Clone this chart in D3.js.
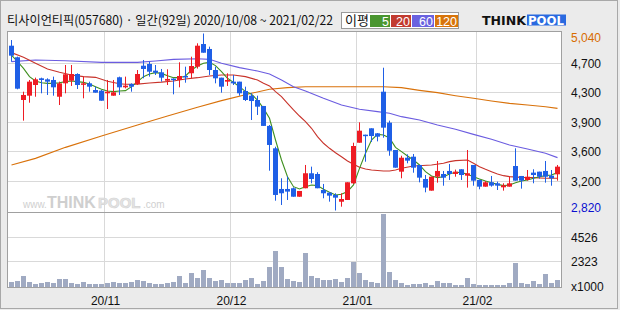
<!DOCTYPE html>
<html>
<head>
<meta charset="utf-8"/>
<script src="https://cdnjs.cloudflare.com/ajax/libs/d3/7.8.5/d3.min.js"></script>
<style>
  body { margin: 0; background: #ebebeb; }
  svg { display: block; font-family: "Liberation Sans", Arial, sans-serif; }
</style>
</head>
<body>
<script>
// trading days 2020/10/08 ~ 2021/02/22 (92)
const dates = [
  "2020-10-08","2020-10-12","2020-10-13","2020-10-14","2020-10-15","2020-10-16","2020-10-19","2020-10-20","2020-10-21","2020-10-22",
  "2020-10-23","2020-10-26","2020-10-27","2020-10-28","2020-10-29","2020-10-30","2020-11-02","2020-11-03","2020-11-04","2020-11-05",
  "2020-11-06","2020-11-09","2020-11-10","2020-11-11","2020-11-12","2020-11-13","2020-11-16","2020-11-17","2020-11-18","2020-11-19",
  "2020-11-20","2020-11-23","2020-11-24","2020-11-25","2020-11-26","2020-11-27","2020-11-30","2020-12-01","2020-12-02","2020-12-03",
  "2020-12-04","2020-12-07","2020-12-08","2020-12-09","2020-12-10","2020-12-11","2020-12-14","2020-12-15","2020-12-16","2020-12-17",
  "2020-12-18","2020-12-21","2020-12-22","2020-12-23","2020-12-24","2020-12-28","2020-12-29","2020-12-30","2021-01-04","2021-01-05",
  "2021-01-06","2021-01-07","2021-01-08","2021-01-11","2021-01-12","2021-01-13","2021-01-14","2021-01-15","2021-01-18","2021-01-19",
  "2021-01-20","2021-01-21","2021-01-22","2021-01-25","2021-01-26","2021-01-27","2021-01-28","2021-01-29","2021-02-01","2021-02-02",
  "2021-02-03","2021-02-04","2021-02-05","2021-02-08","2021-02-09","2021-02-10","2021-02-15","2021-02-16","2021-02-17","2021-02-18",
  "2021-02-19","2021-02-22"
];

const open = [
  4887,4742,4206,4260,4394,4478,4465,4457,4247,4415, 4448,4532,4403,4415,4331,4323,4290,4260,4491,4365,
  4407,4407,4636,4658,4574,4553,4448,4474,4457,4507, 4541,4624,4908,4846,4582,4486,4436,4436,4436,4319,
  4260,4206,4131,3881,3600,3090,3090,3099,2993,3099, 3287,3278,3077,3044,3015,2930,2952,3161,3670,3771,
  3851,3788,4310,3922,3579,3307,3482,3495,3391,3215, 3069,3244,3278,3316,3278,3337,3257,3391,3203,3119,
  3174,3161,3111,3119,3378,3253,3203,3295,3307,3316, 3257,3274
];
const high = [
  4958,4750,4310,4457,4486,4486,4478,4499,4436,4645, 4645,4541,4499,4436,4373,4331,4457,4457,4499,4499,
  4415,4582,4708,4687,4645,4595,4591,4478,4679,4624, 4749,4917,5040,4875,4624,4486,4541,4520,4436,4373,
  4290,4260,4131,3892,3620,3224,3244,3110,3065,3391, 3370,3300,3153,3048,3036,3036,3174,3670,3926,3771,
  3851,3792,4611,3947,3579,3507,3524,3529,3391,3265, 3244,3441,3316,3403,3333,3337,3579,3391,3207,3190,
  3253,3182,3161,3245,3600,3253,3328,3337,3307,3441, 3328,3391
];
const low = [
  4686,4340,3947,4172,4247,4290,4269,4260,4143,4290, 4382,4344,4227,4310,4298,4197,4093,4260,4269,4352,
  4310,4394,4478,4499,4520,4436,4394,4277,4365,4423, 4478,4600,4799,4520,4415,4298,4382,4394,4260,4193,
  3955,4018,3881,3319,2943,2889,2952,2993,2993,3099, 3161,3099,2973,2931,2820,2868,2952,3153,3670,3432,
  3680,3687,3733,3507,3357,3224,3412,3294,3173,3048, 3069,3169,3131,3203,3244,3203,3107,3131,3086,3119,
  3119,3077,3069,3119,3194,3094,3194,3161,3220,3169, 3131,3194
];
const close = [
  4762,4348,4269,4436,4465,4457,4436,4365,4415,4528, 4532,4394,4415,4373,4298,4197,4310,4302,4365,4386,
  4373,4532,4595,4561,4548,4486,4470,4457,4507,4495, 4632,4887,4799,4582,4478,4373,4457,4415,4290,4206,
  4193,4122,3881,3642,3015,3036,3057,2993,3065,3287, 3215,3099,3036,3006,2981,2964,3174,3629,3821,3754,
  3754,3746,3859,3570,3357,3482,3445,3357,3232,3107, 3244,3316,3232,3278,3307,3265,3287,3194,3119,3174,
  3132,3132,3136,3161,3194,3194,3244,3265,3244,3244, 3224,3370
];
// volume, thousands of shares
const volume = [
  480,570,996,480,272,390,480,390,724,724, 390,272,480,272,272,272,390,480,390,390,
  480,634,570,390,272,272,390,480,996,390, 1298,845,1539,845,570,634,390,390,390,634,
  845,272,570,1841,3259,1841,724,543,452,3108, 996,815,634,634,724,480,815,2263,1298,634,
  480,390,6609,1388,634,390,181,272,272,390, 181,543,332,390,181,181,815,272,181,181,
  181,181,181,390,2203,390,272,543,272,1177, 390,634
];

// moving averages: [day index, price]
const ma5 = [
  4770,4687,4603,4499,4444,4423,4415,4415,4423,4436, 4444,4436,4427,4407,4373,4340,4319,4311,4319,4323,
  4373,4436,4499,4532,4549,4540,4511,4486,4486,4507, 4582,4632,4666,4678,4637,4561,4478,4427,4373,4311,
  4277,4206,4101,3976,3704,3453,3244,3119,3090,3119, 3140,3132,3086,3048,3015,3023,3057,3140,3349,3537,
  3704,3775,3767,3730,3612,3558,3504,3453,3391,3307, 3253,3232,3244,3278,3299,3295,3274,3244,3215,3190,
  3169,3148,3132,3140,3169,3190,3203,3224,3244,3257, 3265,3295
].map((v, i) => [i, v]);
const ma20 = [
  [0,4800],[2,4741],[4,4666],[6,4595],[8,4553],[10,4520],[12,4499],[14,4490],[16,4440],[18,4410],
  [19,4403],[21,4405],[23,4420],[25,4430],[27,4445],[29,4470],[31,4486],[33,4507],[35,4520],[37,4520],
  [39,4499],[41,4457],[42,4415],[43,4382],[44,4311],[45,4248],[46,4164],[47,4081],[48,4005],[49,3934],
  [50,3851],[51,3746],[52,3663],[53,3600],[54,3545],[55,3495],[56,3441],[57,3399],[58,3362],[59,3341],
  [60,3328],[62,3316],[63,3316],[64,3328],[65,3349],[67,3378],[70,3391],[72,3412],[73,3433],[74,3445],
  [76,3453],[77,3412],[78,3370],[79,3337],[80,3307],[81,3278],[82,3257],[83,3245],[85,3236],[87,3232],
  [89,3224],[91,3224]
];
const ma60 = [
  [0,4687],[4,4708],[9,4699],[15,4678],[21,4678],[24,4695],[27,4716],[31,4724],[33,4716],[35,4666],
  [38,4612],[41,4570],[43,4532],[45,4457],[47,4373],[49,4319],[52,4227],[55,4143],[58,4089],[61,4060],
  [63,4039],[65,3997],[68,3955],[71,3892],[74,3838],[77,3775],[80,3713],[83,3642],[86,3591],[89,3537],
  [91,3483]
];
const ma120 = [
  [0,3391],[4,3474],[9,3612],[15,3754],[21,3892],[26,4005],[31,4114],[35,4198],[40,4290],[43,4340],
  [46,4361],[49,4373],[55,4373],[62,4373],[65,4361],[68,4327],[71,4298],[74,4260],[77,4227],[80,4193],
  [83,4164],[86,4143],[89,4122],[91,4101]
];

const priceMin = 2820, priceMax = 5040;
const priceTicks = [4670, 4300, 3930, 3560, 3190];
const priceTickLabels = ["4,700", "4,300", "3,900", "3,600", "3,200"];
const volMax = 6790;
const volTicks = [4526, 2323];
const monthTicks = ["2020-11-02", "2020-12-01", "2021-01-04", "2021-02-01"];
const monthLabels = ["20/11", "20/12", "21/01", "21/02"];

const title = "티사이언티픽(057680) · 일간(92일) 2020/10/08 ~ 2021/02/22";
const maLegend = [
  {label: "5", color: "#4a9630"},
  {label: "20", color: "#c23b30"},
  {label: "60", color: "#6a62e0"},
  {label: "120", color: "#d8740a"}
];

const width = 620, height = 310;
const panel = {left: 7.5, right: 561.5, top: 31.5, mid: 212.5, bottom: 287.5};
const RED = "#ee1c24", BLUE = "#1f5fe6";

const svg = d3.select("body").append("svg")
  .attr("width", width).attr("height", height)
  .attr("viewBox", [0, 0, width, height]);

svg.append("rect").attr("x", 0.5).attr("y", 0.5)
  .attr("width", width - 3).attr("height", height - 2)
  .attr("fill", "#ebebeb").attr("stroke", "#a8a8a8");

const x = d3.scaleBand().domain(dates)
  .range([8.5, 560.5]).paddingInner(1 / 6).paddingOuter(1 / 12);
const y = d3.scaleLinear().domain([priceMin, priceMax]).range([210.5, 33.5]);
const vy = d3.scaleLinear().domain([0, volMax]).range([287, 212]);
const cx = d => x(d) + x.bandwidth() / 2;
const snap = v => Math.round(v - 0.5) + 0.5;

// panels
svg.append("rect")
  .attr("x", panel.left).attr("y", panel.top)
  .attr("width", panel.right - panel.left).attr("height", panel.bottom - panel.top)
  .attr("fill", "#fff");

// watermark, pieces laid side by side
const wm = svg.append("g").attr("fill", "#cfcfcf");
wm.append("text").attr("x", 23).attr("y", 208).attr("font-size", 10).text("www.");
wm.append("text").attr("x", 47).attr("y", 208).attr("font-size", 16).attr("font-weight", "bold").text("THINK");
wm.append("text").attr("x", 98).attr("y", 208).attr("font-size", 15).attr("font-weight", "bold")
  .attr("fill", "#e4e4e4").attr("stroke", "#d4d4d4").attr("stroke-width", 0.6).text("POOL");
wm.append("text").attr("x", 143).attr("y", 208).attr("font-size", 10).text(".com");

// grid
const grid = svg.append("g").attr("stroke", "#d9d9d9").attr("stroke-width", 1);
grid.selectAll(".gx").data(monthTicks).join("line")
  .attr("x1", d => x(d) - 0.5).attr("x2", d => x(d) - 0.5)
  .attr("y1", panel.top).attr("y2", panel.bottom);
grid.selectAll(".gy").data(priceTicks).join("line")
  .attr("x1", panel.left).attr("x2", panel.right)
  .attr("y1", d => snap(y(d))).attr("y2", d => snap(y(d)));
grid.selectAll(".gv").data(volTicks).join("line")
  .attr("x1", panel.left).attr("x2", panel.right)
  .attr("y1", d => snap(vy(d))).attr("y2", d => snap(vy(d)));

// volume bars
svg.append("g").attr("fill", "#a0aac2")
  .selectAll("rect").data(dates).join("rect")
  .attr("x", d => x(d))
  .attr("y", (d, i) => Math.round(vy(volume[i])))
  .attr("width", x.bandwidth())
  .attr("height", (d, i) => 287 - Math.round(vy(volume[i])));

// moving averages
const line = d3.line().x(d => cx(dates[d[0]])).y(d => y(d[1]));
[[ma120, "#d9720b"], [ma60, "#6b5ce0"], [ma20, "#c8332b"], [ma5, "#3f8f1f"]].forEach(([data, color]) => {
  svg.append("path").datum(data)
    .attr("fill", "none").attr("stroke", color).attr("stroke-width", 1.1)
    .attr("d", line);
});

// candles
const candles = svg.append("g").selectAll("g").data(dates).join("g")
  .attr("fill", (d, i) => close[i] >= open[i] ? RED : BLUE)
  .attr("stroke", (d, i) => close[i] >= open[i] ? RED : BLUE);
candles.append("line")
  .attr("x1", d => snap(cx(d))).attr("x2", d => snap(cx(d)))
  .attr("y1", (d, i) => y(high[i])).attr("y2", (d, i) => y(low[i]));
candles.append("rect")
  .attr("stroke", "none")
  .attr("x", d => x(d))
  .attr("y", (d, i) => y(Math.max(open[i], close[i])))
  .attr("width", x.bandwidth())
  .attr("height", (d, i) => Math.max(1.5, Math.abs(y(open[i]) - y(close[i]))));

// panel borders
const border = svg.append("g").attr("fill", "none").attr("stroke", "#a0a0a0");
border.append("rect")
  .attr("x", panel.left).attr("y", panel.top)
  .attr("width", panel.right - panel.left).attr("height", panel.bottom - panel.top);
border.append("line")
  .attr("x1", panel.left).attr("x2", panel.right)
  .attr("y1", panel.mid).attr("y2", panel.mid);

// right axis labels
const axis = svg.append("g").attr("font-size", 12).attr("fill", "#111");
axis.append("text").attr("x", 571).attr("y", y(priceMax) + 8.5)
  .attr("fill", "#d86c00").text(d3.format(",")(priceMax));
axis.selectAll(".pt").data(priceTicks).join("text")
  .attr("x", 571).attr("y", d => y(d) + 4.5)
  .text((d, i) => priceTickLabels[i]);
axis.append("text").attr("x", 571).attr("y", y(priceMin) + 1)
  .attr("fill", "#0a10d0").text(d3.format(",")(priceMin));
axis.selectAll(".vt").data(volTicks).join("text")
  .attr("x", 571).attr("y", d => vy(d) + 5)
  .text(d => d);
axis.append("text").attr("x", 571).attr("y", 291).text("x1000");

// month labels
svg.append("g").attr("font-size", 12).attr("fill", "#111").attr("text-anchor", "middle")
  .selectAll("text").data(monthTicks).join("text")
  .attr("x", d => x(d) + 0.5).attr("y", 305)
  .text((d, i) => monthLabels[i]);

// header
svg.append("text").attr("x", 7).attr("y", 25)
  .attr("font-family", "'Noto Sans CJK KR', sans-serif").attr("font-size", 12.5).attr("fill", "#111")
  .attr("textLength", 326).attr("lengthAdjust", "spacingAndGlyphs")
  .text(title);

const leg = svg.append("g");
leg.append("rect").attr("x", 341.5).attr("y", 12.5).attr("width", 117).attr("height", 16)
  .attr("fill", "#fff").attr("stroke", "#9a9a9a");
leg.append("text").attr("x", 345).attr("y", 25)
  .attr("font-family", "'Noto Sans CJK KR', sans-serif").attr("font-size", 13).attr("fill", "#111")
  .text("이평");
const boxX = [370, 391, 412, 435], boxW = [20, 20, 22, 23];
maLegend.forEach((m, i) => {
  leg.append("rect").attr("x", boxX[i]).attr("y", 15).attr("width", boxW[i]).attr("height", 12)
    .attr("fill", m.color);
  leg.append("text").attr("x", boxX[i] + boxW[i] - 1).attr("y", 25.5)
    .attr("text-anchor", "end").attr("font-size", 12.5).attr("fill", "#fff").text(m.label);
});

// logo
svg.append("rect").attr("x", 527).attr("y", 14.5).attr("width", 39).attr("height", 11).attr("fill", "#2a6ae0");
svg.append("text").attr("x", 482).attr("y", 24.5)
  .attr("font-family", "'DejaVu Sans', sans-serif").attr("font-weight", "bold").attr("font-size", 11.5)
  .attr("fill", "#111").attr("textLength", 44).attr("lengthAdjust", "spacingAndGlyphs").text("THINK");
svg.append("text").attr("x", 528).attr("y", 24.5)
  .attr("font-family", "'DejaVu Sans', sans-serif").attr("font-weight", "bold").attr("font-size", 11.5)
  .attr("fill", "#fff").attr("textLength", 36).attr("lengthAdjust", "spacingAndGlyphs").text("POOL");
</script>
</body>
</html>
